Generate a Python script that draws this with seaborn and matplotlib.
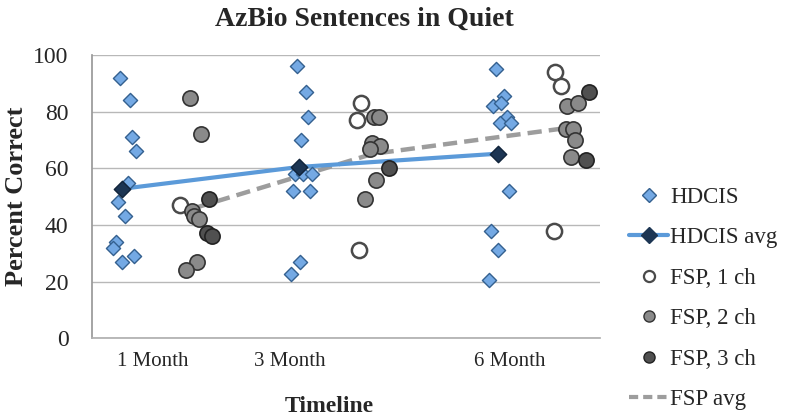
import pandas as pd
import matplotlib
matplotlib.use("Agg")
import matplotlib.pyplot as plt
import seaborn as sns
from matplotlib.lines import Line2D


sns.set_theme(style="white")
plt.rcParams["font.family"] = ["Liberation Serif", "DejaVu Serif"]

# month labels and where they sit on the timeline axis
months = ["1 Month", "3 Month", "6 Month"]
month_pos = [0.60, 1.95, 4.11]

# HDCIS individual scores (x = timeline position with Excel-style offset)
hdcis_x = [0.28, 0.37, 0.39, 0.43, 0.35, 0.26, 0.32, 0.24, 0.21, 0.41, 0.30,
           2.02, 2.11, 2.13, 2.06, 2.00, 2.08, 2.17, 1.98, 2.15, 2.05, 1.96,
           3.98, 4.06, 3.95, 4.03, 4.08, 4.02, 4.12, 4.10, 3.93, 4.00, 3.91]
hdcis_y = [92, 84, 71, 66, 55, 48, 43, 34, 32, 29, 27,
           96, 87, 78, 70, 58, 58, 58, 52, 52, 27, 22.5,
           95, 85.5, 82, 83, 78, 76, 76, 52, 38, 31, 20.5]

hdcis_avg_x = [0.30, 2.04, 4.00]
hdcis_avg_y = [52.8, 60.5, 65.2]

# FSP scores by number of channels
fsp1_x = [0.87, 2.65, 2.61, 2.63, 4.56, 4.62, 4.55]
fsp1_y = [47, 83, 77, 31, 94, 89, 38]

fsp2_x = [0.96, 1.07, 0.98, 1.00, 1.05, 1.03, 0.93,
          2.78, 2.82, 2.76, 2.83, 2.74, 2.80, 2.69,
          4.68, 4.78, 4.67, 4.73, 4.75, 4.71]
fsp2_y = [85, 72, 45, 43, 42, 27, 24,
          78, 78, 69, 68, 67, 56, 49,
          82, 83, 74, 74, 70, 64]

fsp3_x = [1.15, 1.13, 1.18, 2.92, 4.89, 4.86]
fsp3_y = [49, 37, 36, 60, 87, 63]

fsp_avg_x = [1.02, 2.76, 4.70]
fsp_avg_y = [46.1, 65.1, 74.4]

blue_fill = "#74a9e4"
blue_edge = "#34608f"
navy = "#1c3553"
line_blue = "#5b9ad9"

fig = plt.figure(figsize=(8, 4.18), dpi=100)
ax = fig.add_axes([0.115, 0.191, 0.635, 0.677])

# average lines first so markers sit on top
sns.lineplot(x=fsp_avg_x, y=fsp_avg_y, ax=ax, color="#9d9d9d", lw=3.2,
             linestyle=(0, (3.2, 1.6)), zorder=2, estimator=None, sort=False)
sns.lineplot(x=hdcis_avg_x, y=hdcis_avg_y, ax=ax, color=line_blue, lw=3.0,
             zorder=2, estimator=None, sort=False)

sns.scatterplot(x=hdcis_x, y=hdcis_y, ax=ax, marker="D", s=52,
                color=blue_fill, edgecolor=blue_edge, linewidth=1.0, zorder=3)
sns.scatterplot(x=hdcis_avg_x, y=hdcis_avg_y, ax=ax, marker="D", s=70,
                color=navy, edgecolor="#10233a", linewidth=1.0, zorder=4)
sns.scatterplot(x=fsp1_x, y=fsp1_y, ax=ax, marker="o", s=120,
                color="white", edgecolor="#4a4a4a", linewidth=1.8, zorder=3)
sns.scatterplot(x=fsp2_x, y=fsp2_y, ax=ax, marker="o", s=120,
                color="#8a8a8a", edgecolor="#333333", linewidth=1.2, zorder=3)
sns.scatterplot(x=fsp3_x, y=fsp3_y, ax=ax, marker="o", s=120,
                color="#505050", edgecolor="#222222", linewidth=1.2, zorder=3)

ax.set_xlim(0, 5)
ax.set_ylim(0, 100)
ax.set_yticks(range(0, 101, 20))
ax.set_xticks(range(0, 6))
ax.set_xticklabels([])
ax.set_xticks(month_pos, minor=True)
ax.set_xticklabels(months, minor=True)
ax.tick_params(axis="x", which="major", direction="inout", length=4,
               color="#aaaaaa", width=0.8)
ax.tick_params(axis="x", which="minor", length=0, pad=10, labelsize=15)
ax.tick_params(axis="y", length=0, pad=17, labelsize=17)

ax.yaxis.grid(True, color="#b8b8b8", lw=1.0)
ax.set_axisbelow(True)
for side in ["top", "right"]:
    ax.spines[side].set_visible(False)
ax.spines["left"].set_color("#999999")
ax.spines["bottom"].set_color("#b0b0b0")

ax.set_ylabel("Percent Correct", fontsize=19, fontweight="bold")
ax.yaxis.set_label_coords(-0.125, 0.5)
ax.set_xlabel("Timeline", fontsize=17, fontweight="bold")
ax.xaxis.set_label_coords(0.468, -0.205)
fig.text(0.456, 0.955, "AzBio Sentences in Quiet", ha="center", va="center",
         fontsize=20, fontweight="bold")

handles = [
    Line2D([], [], ls="", marker="D", ms=7, mfc=blue_fill, mec=blue_edge),
    Line2D([], [], color=line_blue, lw=3, marker="D", ms=8, mfc=navy, mec=navy),
    Line2D([], [], ls="", marker="o", ms=8, mfc="white", mec="#4a4a4a", mew=1.6),
    Line2D([], [], ls="", marker="o", ms=8, mfc="#8a8a8a", mec="#333333"),
    Line2D([], [], ls="", marker="o", ms=8, mfc="#505050", mec="#222222"),
    Line2D([], [], color="#9d9d9d", lw=3, ls=(0, (2.2, 1.2))),
]
labels = ["HDCIS", "HDCIS avg", "FSP, 1 ch", "FSP, 2 ch", "FSP, 3 ch", "FSP avg"]
fig.legend(handles, labels, loc="upper left", bbox_to_anchor=(0.775, 0.575),
           frameon=False, fontsize=16.5, handlelength=1.7, handletextpad=0.1,
           labelspacing=0.85, borderaxespad=0)

fig.savefig("out.png", dpi=100)
